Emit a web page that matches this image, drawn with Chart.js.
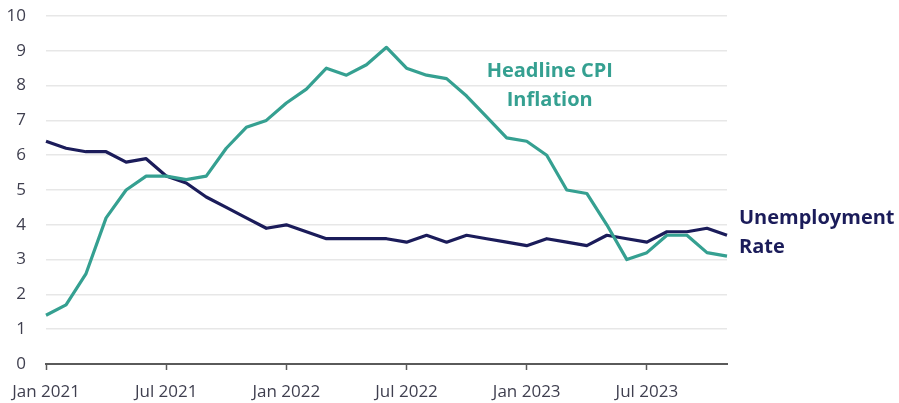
<!DOCTYPE html>
<html>
<head>
<meta charset="utf-8">
<script src="https://cdn.jsdelivr.net/npm/chart.js@4"></script>
<style>
  html, body { margin: 0; padding: 0; background: #ffffff; }
  #wrap { width: 899px; height: 403px; position: relative; }
</style>
</head>
<body>
<div id="wrap"><canvas id="chart" width="899" height="403"></canvas></div>
<script>
// Monthly observations, Jan 2021 – Nov 2023
const months = [
  'Jan 2021','Feb 2021','Mar 2021','Apr 2021','May 2021','Jun 2021',
  'Jul 2021','Aug 2021','Sep 2021','Oct 2021','Nov 2021','Dec 2021',
  'Jan 2022','Feb 2022','Mar 2022','Apr 2022','May 2022','Jun 2022',
  'Jul 2022','Aug 2022','Sep 2022','Oct 2022','Nov 2022','Dec 2022',
  'Jan 2023','Feb 2023','Mar 2023','Apr 2023','May 2023','Jun 2023',
  'Jul 2023','Aug 2023','Sep 2023','Oct 2023','Nov 2023'
];

// Headline CPI inflation, % year over year
const cpiInflation = [
  1.4, 1.7, 2.6, 4.2, 5.0, 5.4, 5.4, 5.3, 5.4, 6.2, 6.8, 7.0,
  7.5, 7.9, 8.5, 8.3, 8.6, 9.1, 8.5, 8.3, 8.2, 7.7, 7.1, 6.5,
  6.4, 6.0, 5.0, 4.9, 4.0, 3.0, 3.2, 3.7, 3.7, 3.2, 3.1
];

// Unemployment rate, %
const unemploymentRate = [
  6.4, 6.2, 6.1, 6.1, 5.8, 5.9, 5.4, 5.2, 4.8, 4.5, 4.2, 3.9,
  4.0, 3.8, 3.6, 3.6, 3.6, 3.6, 3.5, 3.7, 3.5, 3.7, 3.6, 3.5,
  3.4, 3.6, 3.5, 3.4, 3.7, 3.6, 3.5, 3.8, 3.8, 3.9, 3.7
];

const yTicks = [0, 1, 2, 3, 4, 5, 6, 7, 8, 9, 10];

const TEAL = '#35a091';
const NAVY = '#1b1c5a';
const FONT = "'Open Sans', 'Noto Sans', sans-serif";

// Series names written beside the lines, positioned in data space
const seriesLabels = [
  { lines: ['Headline CPI', 'Inflation'], color: TEAL, at: 25.15, value: 8.4, align: 'center' },
  { lines: ['Unemployment', 'Rate'], color: NAVY, at: null, value: 4.2, align: 'left' }
];

const labelPlugin = {
  id: 'seriesLabels',
  afterDatasetsDraw(chart) {
    const { ctx, chartArea, scales } = chart;
    ctx.save();
    ctx.font = `bold 20px ${FONT}`;
    ctx.textBaseline = 'middle';
    seriesLabels.forEach(l => {
      ctx.fillStyle = l.color;
      ctx.textAlign = l.align;
      const x = l.at === null ? chartArea.right + 12 : scales.x.getPixelForValue(l.at);
      const y0 = scales.y.getPixelForValue(l.value);
      l.lines.forEach((t, i) => ctx.fillText(t, x, y0 + i * 29));
    });
    ctx.restore();
  }
};

new Chart(document.getElementById('chart'), {
  type: 'line',
  data: {
    labels: months,
    datasets: [
      {
        label: 'Headline CPI Inflation',
        data: cpiInflation,
        borderColor: TEAL,
        borderWidth: 3.2,
        pointRadius: 0,
        tension: 0,
        borderJoinStyle: 'round'
      },
      {
        label: 'Unemployment Rate',
        data: unemploymentRate,
        borderColor: NAVY,
        borderWidth: 3.2,
        pointRadius: 0,
        tension: 0,
        borderJoinStyle: 'round'
      }
    ]
  },
  options: {
    responsive: false,
    animation: false,
    layout: { padding: { top: 16, right: 172, left: 0, bottom: 0 } },
    plugins: {
      legend: { display: false },
      tooltip: { enabled: false }
    },
    scales: {
      x: {
        type: 'category',
        offset: false,
        afterBuildTicks(scale) {
          scale.ticks = scale.ticks.filter(t => t.value % 6 === 0);
        },
        afterFit(scale) { scale.height = 39; },
        grid: {
          drawOnChartArea: false,
          drawTicks: true,
          tickLength: 6,
          tickWidth: 1.5,
          color: '#5a5a5a'
        },
        border: { display: true, color: '#5a5a5a', width: 2 },
        ticks: {
          autoSkip: false,
          maxRotation: 0,
          padding: 12,
          color: '#3f3f4f',
          font: { family: FONT, size: 17 }
        }
      },
      y: {
        min: 0,
        max: 10,
        afterBuildTicks(scale) {
          scale.ticks = yTicks.map(v => ({ value: v }));
        },
        afterFit(scale) {
          scale.width = 46;
          scale.paddingTop = 0;
          scale.paddingBottom = 0;
        },
        grid: {
          drawTicks: false,
          color: ctx => (ctx.tick && ctx.tick.value === 0 ? 'rgba(0,0,0,0)' : '#e7e7e7'),
          lineWidth: 1.5
        },
        border: { display: false },
        ticks: {
          padding: 20,
          color: '#3f3f4f',
          font: { family: FONT, size: 17 }
        }
      }
    }
  },
  plugins: [labelPlugin]
});
</script>
</body>
</html>
